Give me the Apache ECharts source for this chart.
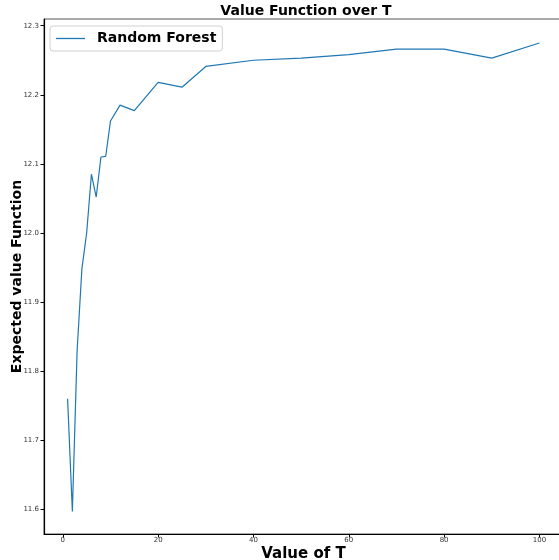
<!DOCTYPE html>
<html>
<head>
<meta charset="utf-8">
<script src="https://cdn.jsdelivr.net/npm/echarts@6/dist/echarts.min.js"></script>
<style>
html,body{margin:0;padding:0;background:#fff;}
#c{width:559px;height:560px;}
</style>
</head>
<body>
<div id="c"></div>
<script>
const T = [1,2,3,4,5,6,7,8,9,10,12,15,20,25,30,40,50,60,70,80,90,100];
const values = [11.760,11.597,11.830,11.948,12.000,12.085,12.052,12.110,12.111,12.162,12.185,12.177,12.218,12.211,12.241,12.250,12.253,12.258,12.266,12.266,12.253,12.275];
const xTicks = [0,20,40,60,80,100];
const yTicks = [11.6,11.7,11.8,11.9,12.0,12.1,12.2,12.3];

const chart = echarts.init(document.getElementById('c'), null, {renderer:'canvas'});
const font = 'DejaVu Sans';
chart.setOption({
  animation:false,
  backgroundColor:'#fff',
  title:{
    text:'Value Function over T',
    left:301, textAlign:'center', top:-1,
    textStyle:{fontFamily:font,fontWeight:'bold',fontSize:14,color:'#000'}
  },
  legend:{
    data:['Random Forest'],
    left:50, top:26,
    backgroundColor:'#fff',
    borderColor:'#d0d0d0', borderWidth:1, borderRadius:3,
    padding:[5.5,6,5.5,6],
    icon:'rect', itemWidth:29, itemHeight:1.3,
    textStyle:{fontFamily:font,fontWeight:'bold',fontSize:14,color:'#000',padding:[0,0,0,7]}
  },
  grid:{left:44, top:19, width:519, height:515, outerBoundsMode:'none',
        show:true, borderColor:'#555', borderWidth:1, backgroundColor:'transparent'},
  xAxis:{
    type:'value', min:-3.95, max:104.95,
    name:'Value of T', nameLocation:'middle', nameGap:12.5, nameMoveOverlap:false,
    nameTextStyle:{fontFamily:font,fontWeight:'bold',fontSize:15,color:'#000',verticalAlign:'top'},
    axisLine:{show:true,onZero:false,lineStyle:{color:'#000',width:1.2}},
    axisTick:{show:true,length:3.5,lineStyle:{color:'#000'},customValues:xTicks},
    axisLabel:{fontFamily:font,fontSize:7,color:'#333',margin:3,customValues:xTicks,formatter:v=>String(v)},
    splitLine:{show:false}
  },
  yAxis:{
    type:'value', min:11.5643, max:12.3097,
    name:'Expected value Function', nameLocation:'middle', nameGap:20, nameMoveOverlap:false,
    nameTextStyle:{fontFamily:font,fontWeight:'bold',fontSize:14,color:'#000'},
    axisLine:{show:true,onZero:false,lineStyle:{color:'#000',width:1.2}},
    axisTick:{show:true,length:3.5,lineStyle:{color:'#000'},customValues:yTicks},
    axisLabel:{fontFamily:font,fontSize:7,color:'#333',margin:5,customValues:yTicks,formatter:v=>v.toFixed(1)},
    splitLine:{show:false}
  },
  series:[{
    name:'Random Forest', type:'line',
    data:T.map((t,i)=>[t,values[i]]),
    showSymbol:false, symbol:'none',
    lineStyle:{color:'#1f77b4',width:1.2},
    itemStyle:{color:'#1f77b4'}
  }]
});
</script>
</body>
</html>
